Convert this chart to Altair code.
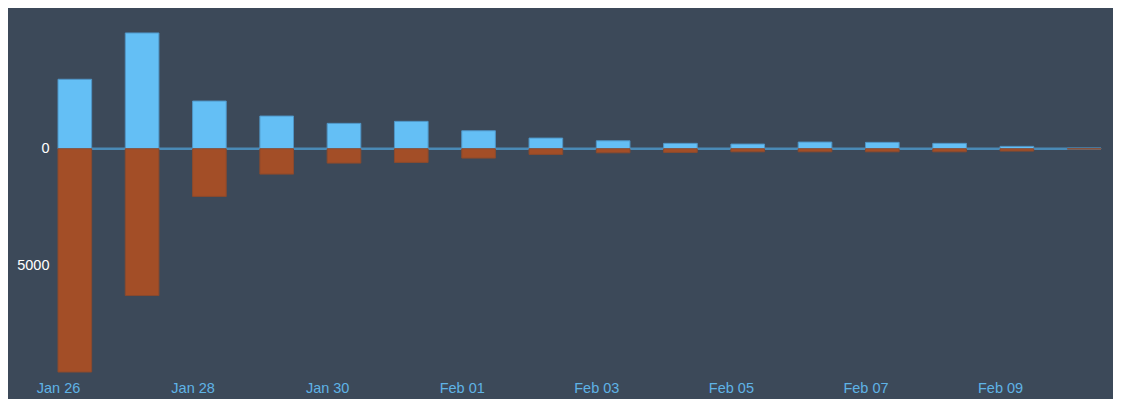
import altair as alt
import pandas as pd

dates = ["2021-01-26", "2021-01-27", "2021-01-28", "2021-01-29", "2021-01-30",
         "2021-01-31", "2021-02-01", "2021-02-02", "2021-02-03", "2021-02-04",
         "2021-02-05", "2021-02-06", "2021-02-07", "2021-02-08", "2021-02-09",
         "2021-02-10"]
positive = [2980, 4966, 2047, 1403, 1090, 1176, 773, 459, 343, 232, 202, 288, 275, 232, 103, 25]
negative = [9570, 6292, 2043, 1086, 614, 584, 399, 240, 172, 155, 129, 129, 129, 129, 99, 10]
tick_dates = ["2021-01-26", "2021-01-28", "2021-01-30", "2021-02-01",
              "2021-02-03", "2021-02-05", "2021-02-07", "2021-02-09"]

BG = "#3c4959"
BLUE = "#64bff5"
BROWN = "#a34e27"

rows = []
for d, p, n in zip(dates, positive, negative):
    start = pd.Timestamp(d)
    end = start + pd.Timedelta(hours=12)
    rows.append({"start": start, "end": end, "series": "pos", "v": p, "base": 0})
    rows.append({"start": start, "end": end, "series": "neg", "v": -n, "base": 0})
df = pd.DataFrame(rows)

x_dom = [pd.Timestamp("2021-01-26").isoformat(), (pd.Timestamp("2021-02-10") + pd.Timedelta(hours=12)).isoformat()]

xscale = alt.Scale(domain=x_dom, nice=False)
yscale = alt.Scale(domain=[-9570, 5950], nice=False, zero=False)

xaxis = alt.Axis(
    values=[pd.Timestamp(t).isoformat() for t in tick_dates],
    format="%b %d", labelColor="#5fb3e6", labelFontSize=14.5, labelFont="Liberation Sans",
    labelFlush=False, labelOverlap=False, labelPadding=9, ticks=False, domain=False,
    grid=False, title=None,
)
yaxis = alt.Axis(
    values=[0, -5000], labelExpr="format(abs(datum.value), 'd')",
    labelColor="#ffffff", labelFontSize=14.5, labelFont="Liberation Sans",
    labelPadding=9, ticks=False, domain=False, grid=False, title=None,
)

zero_df = pd.DataFrame({"z": [0]})
zero = alt.Chart(zero_df).mark_rule(color="#4a8ab6", strokeWidth=2.5).encode(
    y=alt.Y("z:Q", scale=yscale, axis=yaxis)
)

bars = alt.Chart(df).mark_bar(strokeWidth=1).encode(
    x=alt.X("start:T", scale=xscale, axis=xaxis),
    x2="end:T",
    y=alt.Y("v:Q", scale=yscale, axis=yaxis),
    y2="base:Q",
    fill=alt.Fill("series:N", scale=alt.Scale(domain=["pos", "neg"], range=[BLUE, BROWN]), legend=None),
    stroke=alt.Stroke("series:N", scale=alt.Scale(domain=["pos", "neg"], range=["#4f95c6", "#8a4a2e"]), legend=None),
)

chart = alt.layer(zero, bars).properties(
    width=1043, height=362,
    autosize=alt.AutoSizeParams(type="none"),
    padding={"left": 50, "top": 2, "right": 12, "bottom": 27},
    background=BG,
).configure_view(stroke=None)

chart.save("out.html", embed_options={"renderer": "svg", "actions": False})
